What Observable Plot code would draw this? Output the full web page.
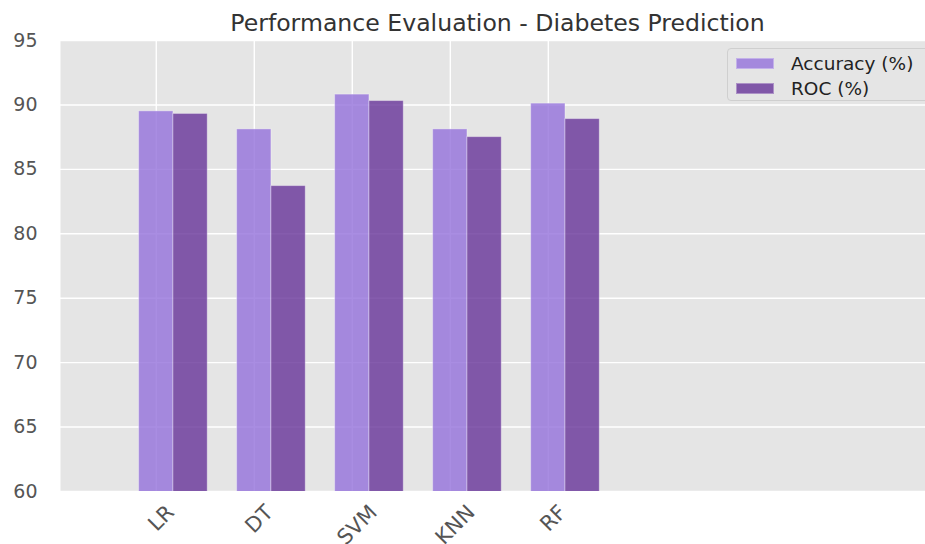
<!DOCTYPE html>
<html>
<head>
<meta charset="utf-8">
<script src="https://cdn.jsdelivr.net/npm/d3@7"></script>
<script src="https://cdn.jsdelivr.net/npm/@observablehq/plot@0.6"></script>
<style>
  html, body { margin: 0; padding: 0; background: #fff; overflow: hidden; }
  #wrap { position: relative; width: 925px; height: 544px; overflow: hidden; font-family: "DejaVu Sans", sans-serif; }
  #chart svg { max-width: none !important; }
  #legend { position: absolute; left: 727px; top: 48px; width: 205px; height: 53px; background: #e5e5e5;
            border: 1px solid #cfcfcf; border-radius: 4px; box-sizing: border-box; }
  .lg-item { position: absolute; left: 8px; height: 20px; display: flex; align-items: center; }
  .lg-sw { width: 38px; height: 11px; box-sizing: border-box; border: 1px solid rgba(255,255,255,0.35); }
  .lg-tx { margin-left: 17px; font-size: 18.5px; color: #222; white-space: nowrap; }
</style>
</head>
<body>
<div id="wrap"><div id="chart"></div><div id="legend"></div></div>
<script>
// ---- data ----
const categories = ["LR", "DT", "SVM", "KNN", "RF"];
const accuracy = [89.5, 88.1, 90.8, 88.1, 90.1];
const roc = [89.3, 83.7, 90.3, 87.5, 88.9];
const seriesNames = ["Accuracy (%)", "ROC (%)"];
const yTicks = [60, 65, 70, 75, 80, 85, 90, 95];
const title = "Performance Evaluation - Diabetes Prediction";

const colors = ["mediumpurple", "rebeccapurple"];
const barWidth = 0.35;

const table = categories.map((c, i) => ({ c, i, acc: accuracy[i], roc: roc[i] }));

// measure tick label widths for matplotlib-like rotated placement (bbox top aligned)
const xFont = 21;
const ctx = document.createElement("canvas").getContext("2d");
ctx.font = xFont + "px 'DejaVu Sans'";
const labelMarks = table.map(d => {
  const w = ctx.measureText(d.c).width;
  const dy = 12 + (w + 0.73 * xFont) * 0.3536;
  return Plot.text([d], {
    x: "i", text: "c", frameAnchor: "bottom", dy, dx: 5, rotate: -45,
    textAnchor: "middle", lineAnchor: "middle", fontSize: xFont, fill: "#555"
  });
});

const chart = Plot.plot({
  width: 934,
  height: 544,
  marginLeft: 60,
  marginRight: 0,
  marginTop: 40,
  marginBottom: 53,
  style: { fontFamily: "DejaVu Sans", background: "transparent", overflow: "visible", maxWidth: "none" },
  x: { type: "linear", domain: [-0.977, 7.94], axis: null },
  y: { domain: [60, 95], axis: null },
  marks: [
    Plot.frame({ fill: "#e5e5e5", stroke: null }),
    Plot.gridY(yTicks, { stroke: "white", strokeOpacity: 1, strokeWidth: 1.4 }),
    Plot.gridX(table.map(d => d.i), { stroke: "white", strokeOpacity: 1, strokeWidth: 1.4 }),
    Plot.rectY(table, {
      x1: d => d.i - barWidth / 2, x2: d => d.i + barWidth / 2, y: "acc",
      fill: colors[0], fillOpacity: 0.8, stroke: "#ffffff", strokeOpacity: 0.35, strokeWidth: 1, clip: true
    }),
    Plot.rectY(table, {
      x1: d => d.i + barWidth / 2, x2: d => d.i + 1.5 * barWidth, y: "roc",
      fill: colors[1], fillOpacity: 0.8, stroke: "#ffffff", strokeOpacity: 0.35, strokeWidth: 1, clip: true
    }),
    Plot.axisY({ ticks: yTicks, tickSize: 0, tickPadding: 23, fontSize: 19, color: "#555", label: null }),
    ...labelMarks,
    Plot.text([title], { frameAnchor: "top", dy: -26, fontSize: 23.6, fill: "#333" })
  ]
});
document.getElementById("chart").appendChild(chart);

// legend
const legend = document.getElementById("legend");
const fills = ["rgba(147,112,219,0.8)", "rgba(102,51,153,0.8)"];
seriesNames.forEach((name, k) => {
  const item = document.createElement("div");
  item.className = "lg-item";
  item.style.top = (4 + k * 25) + "px";
  const sw = document.createElement("div");
  sw.className = "lg-sw";
  sw.style.background = fills[k];
  const tx = document.createElement("div");
  tx.className = "lg-tx";
  tx.textContent = name;
  item.appendChild(sw); item.appendChild(tx);
  legend.appendChild(item);
});
</script>
</body>
</html>
